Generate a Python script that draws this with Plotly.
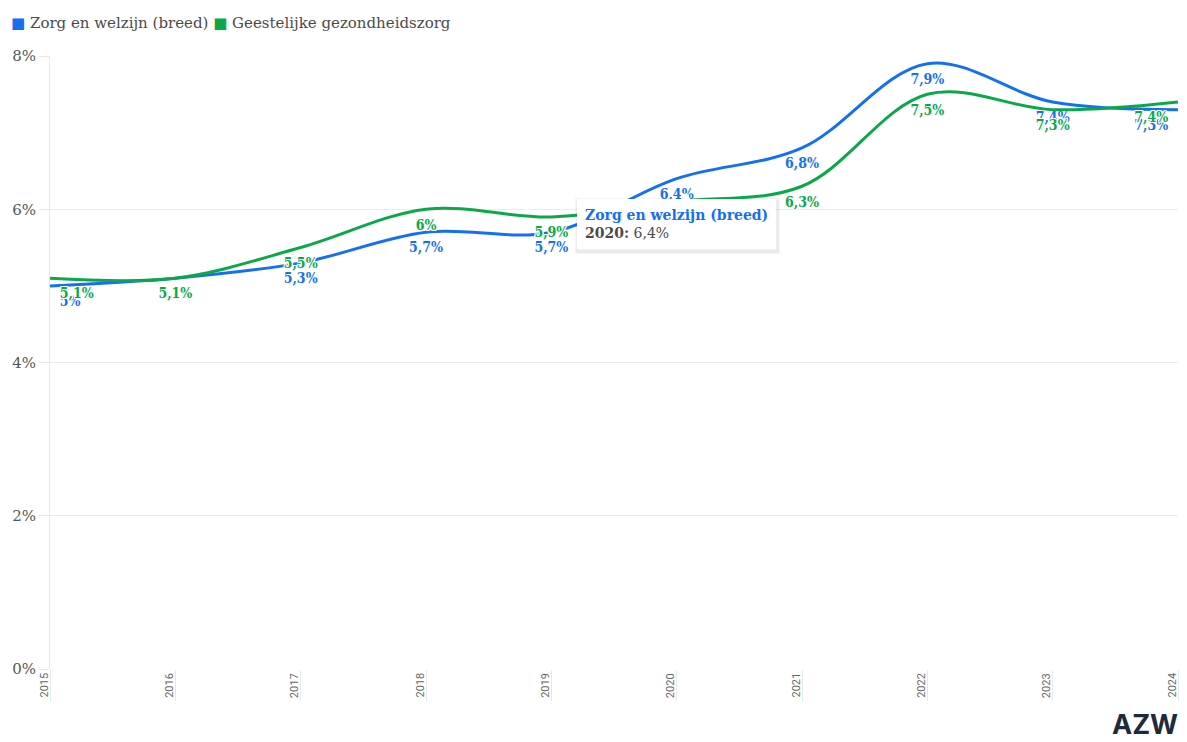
import plotly.graph_objects as go

# Jaarlijkse waarden (in procenten)
jaren = [2015, 2016, 2017, 2018, 2019, 2020, 2021, 2022, 2023, 2024]
zorg_welzijn = [5.0, 5.1, 5.3, 5.7, 5.7, 6.4, 6.8, 7.9, 7.4, 7.3]
ggz = [5.1, 5.1, 5.5, 6.0, 5.9, 6.1, 6.3, 7.5, 7.3, 7.4]

reeks_namen = ["Zorg en welzijn (breed)", "Geestelijke gezondheidszorg"]
y_ticks = [0, 2, 4, 6, 8]

BLAUW = "#1570EF"
GROEN = "#0BA84A"
SERIF = "DejaVu Serif, serif"
SERIF_SMAL = "DejaVu Serif Condensed, DejaVu Serif, serif"
SANS = "Roboto, Open Sans, sans-serif"
GRIJS = "#4a4a4a"


def pct(v):
    """Dutch style percentage: decimal comma, no trailing ',0'."""
    s = f"{v:.1f}".replace(".", ",")
    if s.endswith(",0"):
        s = s[:-2]
    return s + "%"


def posities(n):
    p = ["bottom center"] * n
    p[0] = "bottom right"
    p[-1] = "bottom left"
    return p


halo = ("1px 1px 0 #fff, -1px -1px 0 #fff, 1px -1px 0 #fff, -1px 1px 0 #fff, "
        "0 1px 0 #fff, 0 -1px 0 #fff, 1px 0 0 #fff, -1px 0 0 #fff")

fig = go.Figure()
for naam, waarden, kleur in [(reeks_namen[0], zorg_welzijn, BLAUW),
                             (reeks_namen[1], ggz, GROEN)]:
    fig.add_trace(go.Scatter(
        x=jaren, y=waarden, name=naam,
        mode="lines+markers+text",
        line=dict(color=kleur, width=3, shape="spline", smoothing=1),
        # invisible markers only serve to keep the labels off the line
        marker=dict(size=14, color="rgba(0,0,0,0)"),
        text=[pct(v) for v in waarden],
        textposition=posities(len(waarden)),
        textfont=dict(family=SERIF_SMAL, size=14, color=kleur, weight="bold",
                      shadow=halo),
        cliponaxis=False,
        showlegend=False,
    ))

fig.update_layout(
    width=1187, height=742,
    margin=dict(l=50, r=9, t=56, b=73),
    paper_bgcolor="white", plot_bgcolor="white",
    showlegend=False,
    xaxis=dict(
        range=[jaren[0], jaren[-1]],
        tickvals=jaren, showticklabels=False,
        ticks="outside", ticklen=31, tickcolor="#e8e8e8", tickwidth=1,
        showgrid=False, zeroline=False, showline=False,
    ),
    yaxis=dict(
        range=[0, 8],
        tickvals=y_ticks, ticktext=[f"{t}%" for t in y_ticks],
        ticks="outside", ticklen=10, tickcolor="#e8e8e8",
        tickfont=dict(family=SERIF, size=15, color="#555555"),
        gridcolor="#ebebeb", gridwidth=1,
        showline=True, linecolor="#e8e8e8", linewidth=1,
        zeroline=False,
    ),
)

# Jaartallen langs de x-as (verticaal geschreven)
for j in jaren:
    fig.add_annotation(
        x=j, y=0, xref="x", yref="y", text=str(j), showarrow=False,
        textangle=-90, xanchor="center", yanchor="top", xshift=-6, yshift=-2,
        font=dict(family=SANS, size=11, color="#666666"),
    )

# Legenda
legenda = (f'<span style="color:{BLAUW}">■</span> {reeks_namen[0]} '
           f'<span style="color:{GROEN}">■</span> {reeks_namen[1]}')
fig.add_annotation(
    x=0, y=1, xref="paper", yref="paper", xanchor="left", yanchor="bottom",
    xshift=-41, yshift=22, text=legenda, showarrow=False,
    font=dict(family=SERIF, size=15, color=GRIJS),
)

# Tooltip bij het punt van 2020
idx = jaren.index(2020)
tip_tekst = (f'<b><span style="color:{BLAUW}">{reeks_namen[0]}</span></b><br>'
             f'<b>2020:</b> {pct(zorg_welzijn[idx])}')
schaduw_tekst = f'<b>{reeks_namen[0]}</b><br><b>2020:</b> {pct(zorg_welzijn[idx])}'
for dx, dy, kleur, rand, tekstkleur, tekst in [
    (1, 2, "rgba(0,0,0,0.06)", "rgba(0,0,0,0.04)", "rgba(0,0,0,0)", schaduw_tekst),
    (0, 0, "white", "rgba(0,0,0,0)", GRIJS, tip_tekst),
]:
    fig.add_annotation(
        x=2020, y=zorg_welzijn[idx], xref="x", yref="y", text=tekst,
        showarrow=True, arrowcolor="rgba(0,0,0,0)", arrowwidth=0.1,
        ax=0 + dx, ay=45 + dy, align="left",
        bgcolor=kleur, bordercolor=rand, borderwidth=3 if dx else 0,
        borderpad=8,
        font=dict(family=SERIF, size=14, color=tekstkleur),
    )
fig.add_annotation(
    x=2020, y=zorg_welzijn[idx], xref="x", yref="y", text="▲",
    showarrow=False, yshift=-17, xshift=10,
    font=dict(size=12, color="white"),
)

# Logo
fig.add_annotation(
    x=1, y=0, xref="paper", yref="paper", xanchor="right", yanchor="bottom",
    xshift=2, yshift=-74, text="<b>AZW</b>", showarrow=False,
    font=dict(family="Inter, sans-serif", size=27, color="#1d2a3b"),
)

fig.write_html("out.html")
